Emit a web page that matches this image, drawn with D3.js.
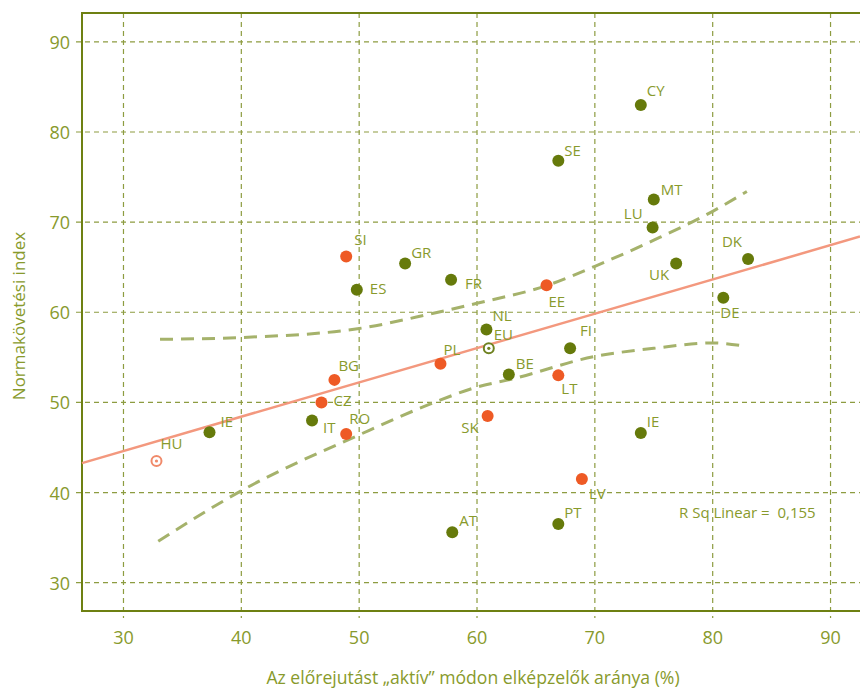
<!DOCTYPE html>
<html>
<head>
<meta charset="utf-8">
<script src="https://cdn.jsdelivr.net/npm/d3@7"></script>
<style>
  body { margin: 0; background: #fff; }
  text { font-family: "Open Sans", "Noto Sans", sans-serif; fill: #889a2c; white-space: pre; }
</style>
</head>
<body>
<svg id="chart" width="860" height="688"></svg>
<script>
// Data
const countries = ["SI", "ES", "GR", "CY", "SE", "MT", "LU", "UK", "DK", "DE", "FR", "EE", "NL", "FI",
  "PL", "BE", "LT", "SK", "IE", "LV", "PT", "AT", "BG", "CZ", "IT", "RO", "IE"];
const activeShare = [48.9, 49.8, 53.9, 73.9, 66.9, 75.0, 74.9, 76.9, 83.0, 80.9, 57.8, 65.9, 60.8, 67.9,
  56.9, 62.7, 66.9, 60.9, 73.9, 68.9, 66.9, 57.9, 47.9, 46.8, 46.0, 48.9, 37.3];
const normIndex = [66.2, 62.5, 65.4, 83.0, 76.8, 72.5, 69.4, 65.4, 65.9, 61.6, 63.6, 63.0, 58.1, 56.0,
  54.3, 53.1, 53.0, 48.5, 46.6, 41.5, 36.5, 35.6, 52.5, 50.0, 48.0, 46.5, 46.7];
const group = ["new", "old", "old", "old", "old", "old", "old", "old", "old", "old", "old", "new", "old", "old",
  "new", "old", "new", "new", "old", "new", "old", "old", "new", "new", "old", "new", "old"];

// reference markers (EU average, Hungary)
const refNames = ["EU", "HU"];
const refX = [61.0, 32.8];
const refY = [56.0, 43.5];

// fit line and its confidence band
const fitX = [26.48, 92.5];
const fitY = [43.27, 68.4];
const upperX = [33.1, 40, 50, 56, 60, 66, 70, 75, 80, 82.9];
const upperY = [57.0, 57.2, 58.2, 59.8, 61.0, 63.0, 65.1, 68.0, 71.2, 73.4];
const lowerX = [32.95, 40, 50, 56, 60, 63, 70, 75, 80, 82.4];
const lowerY = [34.6, 40.2, 46.4, 49.8, 51.7, 52.6, 55.1, 56.0, 56.6, 56.3];

const xTicks = [30, 40, 50, 60, 70, 80, 90];
const yTicks = [30, 40, 50, 60, 70, 80, 90];
const rSquared = "R Sq Linear =  0,155";

// label placement [dx, dy, anchor]
const labelPos = [[8, -17, "start"], [13, -2, "start"], [6, -12, "start"], [6, -15, "start"], [6, -11, "start"],
  [7, -11, "start"], [-10, -15, "end"], [-7, 10, "end"], [-6, -18, "end"], [-3, 14, "start"], [14, 3, "start"],
  [2, 16, "start"], [6, -14, "start"], [10, -18, "start"], [3, -15, "start"], [7, -11, "start"], [3, 13, "start"],
  [-9, 11, "end"], [6, -12, "start"], [7, 14, "start"], [6, -12, "start"], [7, -12, "start"], [4, -15, "start"],
  [12, -2, "start"], [11, 7, "start"], [3, -16, "start"], [11, -11, "start"]];
const refLabelPos = [[5, -14], [4, -18]];

const colors = { old: "#667a0b", new: "#ee5a25" };
const axisColor = "#6e8012";
const gridColor = "#8d9c40";

const svg = d3.select("#chart");
const margin = { left: 82, top: 13, right: 0, bottom: 77 };
const width = 860, height = 688;

const x = d3.scaleLinear().domain([26.48, 92.5]).range([margin.left, width - margin.right]);
const y = d3.scaleLinear().domain([26.86, 93.2]).range([height - margin.bottom, margin.top]);

// grid
svg.append("g").selectAll("line").data(xTicks).join("line")
  .attr("x1", d => x(d)).attr("x2", d => x(d))
  .attr("y1", margin.top).attr("y2", height - margin.bottom + 7)
  .attr("stroke", gridColor).attr("stroke-width", 1.2).attr("stroke-dasharray", "5,4");
svg.append("g").selectAll("line").data(yTicks).join("line")
  .attr("y1", d => y(d)).attr("y2", d => y(d))
  .attr("x1", margin.left - 6).attr("x2", width)
  .attr("stroke", gridColor).attr("stroke-width", 1.2).attr("stroke-dasharray", "5,4");

// frame
svg.append("path")
  .attr("d", `M${width},${margin.top}H${margin.left}V${height - margin.bottom}H${width}`)
  .attr("fill", "none").attr("stroke", axisColor).attr("stroke-width", 2);

// tick labels
svg.append("g").selectAll("text").data(xTicks).join("text")
  .attr("x", d => x(d)).attr("y", height - margin.bottom + 26)
  .attr("text-anchor", "middle").attr("dominant-baseline", "central")
  .attr("font-size", 18).text(d => d);
svg.append("g").selectAll("text").data(yTicks).join("text")
  .attr("x", margin.left - 12).attr("y", d => y(d))
  .attr("text-anchor", "end").attr("dominant-baseline", "central")
  .attr("font-size", 18).text(d => d);

// axis titles
svg.append("text")
  .attr("x", 473).attr("y", 677)
  .attr("text-anchor", "middle").attr("dominant-baseline", "central")
  .attr("font-size", 17.6)
  .text("Az előrejutást „aktív” módon elképzelők aránya (%)");
svg.append("text")
  .attr("transform", "translate(18,316) rotate(-90)")
  .attr("text-anchor", "middle").attr("dominant-baseline", "central")
  .attr("font-size", 17)
  .text("Normakövetési index");

// confidence band
const band = d3.line().curve(d3.curveMonotoneX).x(d => x(d[0])).y(d => y(d[1]));
[d3.zip(upperX, upperY), d3.zip(lowerX, lowerY)].forEach(pts => {
  svg.append("path").datum(pts)
    .attr("d", band)
    .attr("fill", "none").attr("stroke", "#a5b26b").attr("stroke-width", 3)
    .attr("stroke-dasharray", "13,8");
});

// fit line
svg.append("path").datum(d3.zip(fitX, fitY))
  .attr("d", d3.line().x(d => x(d[0])).y(d => y(d[1])))
  .attr("fill", "none").attr("stroke", "#f3987e").attr("stroke-width", 2.5);

// points
svg.append("g").selectAll("circle").data(countries).join("circle")
  .attr("cx", (d, i) => x(activeShare[i])).attr("cy", (d, i) => y(normIndex[i]))
  .attr("r", 6).attr("fill", (d, i) => colors[group[i]]);

svg.append("g").selectAll("text").data(countries).join("text")
  .attr("x", (d, i) => x(activeShare[i]) + labelPos[i][0])
  .attr("y", (d, i) => y(normIndex[i]) + labelPos[i][1])
  .attr("text-anchor", (d, i) => labelPos[i][2])
  .attr("dominant-baseline", "central")
  .attr("font-size", 15).text(d => d);

// EU and HU markers
const refColor = ["#6f8220", "#f08a6a"];
refNames.forEach((n, i) => {
  const cx = x(refX[i]), cy = y(refY[i]);
  svg.append("circle").attr("cx", cx).attr("cy", cy).attr("r", 5)
    .attr("fill", "#fff").attr("stroke", refColor[i]).attr("stroke-width", 2);
  svg.append("circle").attr("cx", cx).attr("cy", cy).attr("r", 1.6).attr("fill", refColor[i]);
  svg.append("text")
    .attr("x", cx + refLabelPos[i][0]).attr("y", cy + refLabelPos[i][1])
    .attr("dominant-baseline", "central").attr("font-size", 15)
    .text(n);
});

svg.append("text")
  .attr("x", 679).attr("y", 512)
  .attr("dominant-baseline", "central").attr("font-size", 15)
  .text(rSquared);
</script>
</body>
</html>
